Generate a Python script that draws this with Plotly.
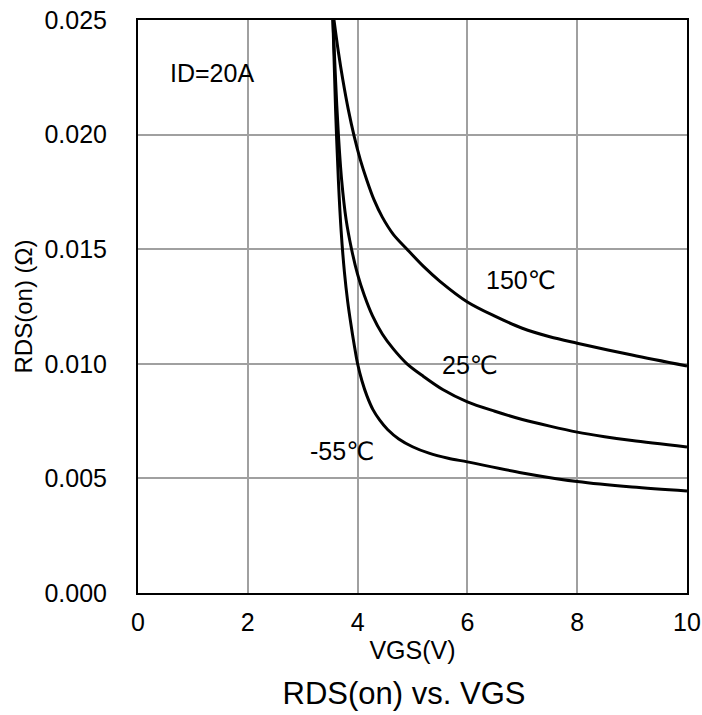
import plotly.graph_objects as go

# VGS (V) and RDS(on) (ohm)
vgs_m55 = [3.55, 3.60, 3.65, 3.70, 3.76, 3.82, 3.88, 3.94, 4.00, 4.08, 4.17, 4.28, 4.40, 4.55,
           4.75, 5.00, 5.30, 5.65, 6.00, 7.00, 8.00, 9.00, 10.0]
rds_m55 = [0.0250, 0.0210, 0.0180, 0.0158, 0.0140, 0.0127, 0.0117, 0.0108, 0.0100, 0.00925,
           0.00860, 0.00800, 0.00755, 0.00712, 0.00672, 0.00638, 0.00610, 0.00588, 0.00572,
           0.00524, 0.00486, 0.00462, 0.00445]

vgs_25 = [3.55, 3.60, 3.65, 3.71, 3.79, 3.89, 4.00, 4.12, 4.27, 4.45, 4.65, 4.90, 5.20, 5.55,
          6.00, 6.50, 7.00, 7.50, 8.00, 8.50, 9.00, 10.0]
rds_25 = [0.0250, 0.0223, 0.0200, 0.0180, 0.0163, 0.0150, 0.0139, 0.0130, 0.0121, 0.0113,
          0.01065, 0.0100, 0.00945, 0.00888, 0.00834, 0.00793, 0.00757, 0.00728, 0.00702,
          0.00682, 0.00665, 0.00637]

vgs_150 = [3.57, 3.65, 3.73, 3.83, 3.94, 4.05, 4.17, 4.30, 4.45, 4.65, 4.90, 5.20, 5.50,
           6.00, 6.50, 7.00, 7.50, 8.00, 9.00, 10.0]
rds_150 = [0.0250, 0.0236, 0.0224, 0.0211, 0.0199, 0.0189, 0.0180, 0.01715, 0.0164, 0.01565,
           0.0150, 0.01425, 0.0136, 0.0127, 0.01208, 0.01155, 0.01118, 0.0109, 0.01038, 0.0099]

series_names = ["-55℃", "25℃", "150℃"]
label_x = [3.72, 6.05, 6.98]
label_y = [0.0062, 0.00995, 0.01366]

x_ticks = [0, 2, 4, 6, 8, 10]
y_ticks = [0.000, 0.005, 0.010, 0.015, 0.020, 0.025]

FONT = "Liberation Sans, Arial, DejaVu Sans, sans-serif"

fig = go.Figure()
for name, xs, ys in [(series_names[0], vgs_m55, rds_m55),
                     (series_names[1], vgs_25, rds_25),
                     (series_names[2], vgs_150, rds_150)]:
    fig.add_trace(go.Scatter(x=xs, y=ys, mode="lines", name=name,
                             line=dict(color="black", width=3, shape="spline", smoothing=0.9),
                             showlegend=False))

for name, lx, ly in zip(series_names, label_x, label_y):
    fig.add_annotation(x=lx, y=ly, text=name, showarrow=False,
                       font=dict(family=FONT, size=25, color="black"))

fig.add_annotation(x=1.34, y=0.02269, text="ID=20A", showarrow=False,
                   font=dict(family=FONT, size=25, color="black"))

fig.update_layout(
    width=702, height=715,
    margin=dict(l=138, r=15, t=20, b=122),
    paper_bgcolor="white", plot_bgcolor="white",
    font=dict(family=FONT, size=25, color="black"),
    title=dict(text="RDS(on) vs. VGS", x=404 / 702, xanchor="center",
               y=1 - 693 / 715, yanchor="middle",
               font=dict(family=FONT, size=31, color="black")),
)
fig.update_xaxes(range=[0, 10], tickvals=x_ticks, ticktext=[str(v) for v in x_ticks],
                 showgrid=True, gridcolor="#a0a0a0", gridwidth=2,
                 showline=True, linecolor="black", linewidth=2, mirror=True,
                 ticks="outside", ticklen=6, tickcolor="rgba(0,0,0,0)",
                 zeroline=False, automargin=False,
                 title=dict(text="VGS(V)", standoff=6, font=dict(family=FONT, size=25)),
                 tickfont=dict(family=FONT, size=25))
fig.update_yaxes(range=[0, 0.025], tickvals=y_ticks, ticktext=[f"{v:.3f}" for v in y_ticks],
                 showgrid=True, gridcolor="#a0a0a0", gridwidth=2,
                 showline=True, linecolor="black", linewidth=2, mirror=True,
                 ticks="outside", ticklen=24, tickcolor="rgba(0,0,0,0)",
                 zeroline=False, automargin=False,
                 title=dict(text="RDS(on) (Ω)", standoff=5, font=dict(family=FONT, size=24)),
                 tickfont=dict(family=FONT, size=25))

fig.write_html("out.html")
